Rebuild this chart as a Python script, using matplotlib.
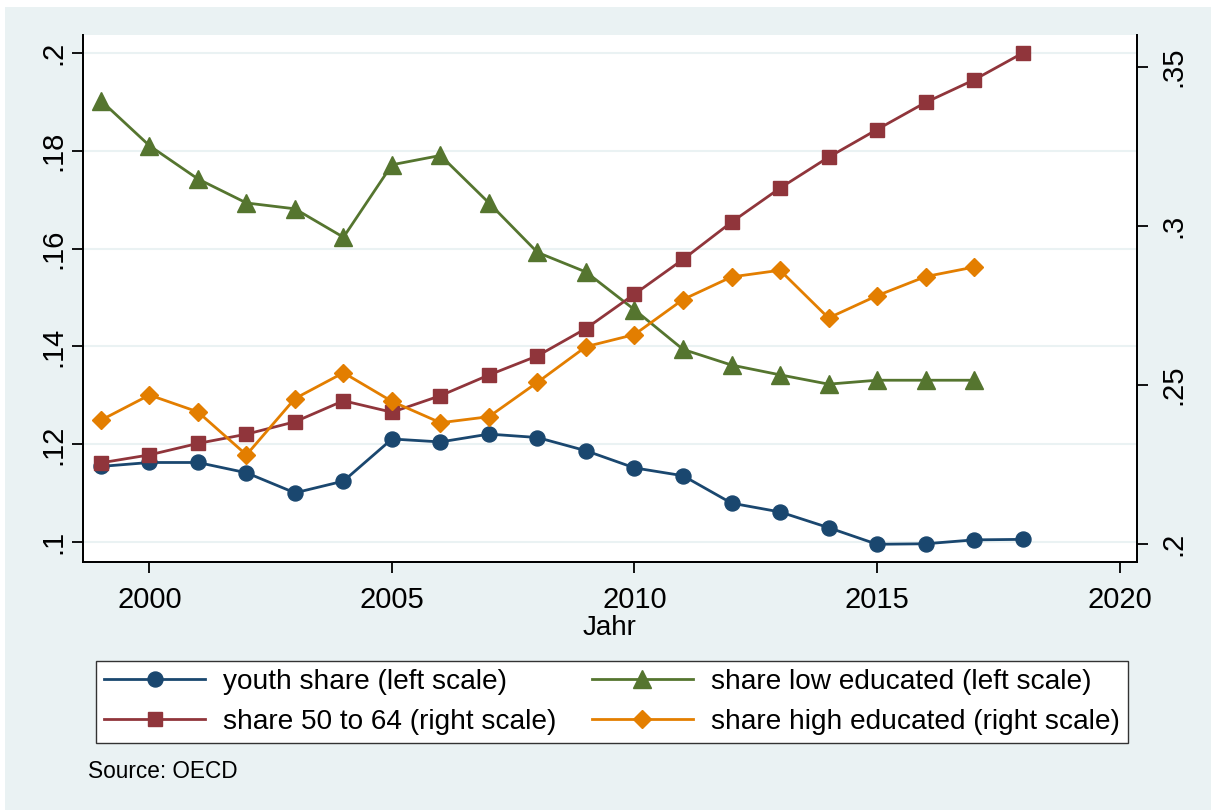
import matplotlib
matplotlib.use("Agg")
import matplotlib.pyplot as plt
from matplotlib.patches import Rectangle

plt.rcParams['font.family'] = ['Liberation Sans', 'DejaVu Sans']

# data
years = list(range(1999, 2019))
youth_share = [0.1155, 0.1163, 0.1163, 0.1142, 0.1101, 0.1125, 0.1211, 0.1205, 0.1221, 0.1214,
               0.1187, 0.1152, 0.1136, 0.1080, 0.1062, 0.1030, 0.0996, 0.0997, 0.1005, 0.1006]
low_educ = [0.1902, 0.1810, 0.1742, 0.1693, 0.1681, 0.1623, 0.1771, 0.1790, 0.1693, 0.1592,
            0.1552, 0.1475, 0.1394, 0.1362, 0.1342, 0.1323, 0.1331, 0.1331, 0.1331]
share_50_64 = [0.2255, 0.2280, 0.2316, 0.2345, 0.2384, 0.2450, 0.2414, 0.2466, 0.2531, 0.2591,
               0.2677, 0.2785, 0.2894, 0.3011, 0.3118, 0.3215, 0.3302, 0.3387, 0.3458, 0.3542]
high_educ = [0.2389, 0.2468, 0.2415, 0.2280, 0.2457, 0.2538, 0.2448, 0.2381, 0.2400, 0.2508,
             0.2620, 0.2658, 0.2768, 0.2839, 0.2860, 0.2710, 0.2780, 0.2840, 0.2870]

left_ticks = [0.10, 0.12, 0.14, 0.16, 0.18, 0.20]
left_labels = ['.1', '.12', '.14', '.16', '.18', '.2']
right_ticks = [0.20, 0.25, 0.30, 0.35]
right_labels = ['.2', '.25', '.3', '.35']
x_ticks = [2000, 2005, 2010, 2015, 2020]

# stata s2color
navy = '#1a476f'
maroon = '#90353b'
green = '#55752f'
orange = '#e37e00'
bg = '#eaf2f3'

W, H = 1211, 810
fig = plt.figure(figsize=(W / 100, H / 100), dpi=100, facecolor='white')
# graph region background
fig.patches.append(Rectangle((5 / W, 0), 1, 1 - 7 / H, transform=fig.transFigure,
                             facecolor=bg, edgecolor='none', zorder=-10))

ax = fig.add_axes([83 / W, 1 - 562 / H, 1054 / W, 527 / H])
ax.set_facecolor('white')
ax2 = ax.twinx()

lw = 2.0
l1, = ax.plot(years, youth_share, color=navy, lw=lw, marker='o', ms=10.8, label='youth share (left scale)')
l2, = ax.plot(years[:len(low_educ)], low_educ, color=green, lw=lw, marker='^', ms=12.5,
              label='share low educated (left scale)')
l3, = ax2.plot(years, share_50_64, color=maroon, lw=lw, marker='s', ms=10,
               label='share 50 to 64 (right scale)')
l4, = ax2.plot(years[:len(high_educ)], high_educ, color=orange, lw=lw, marker='D', ms=9,
               label='share high educated (right scale)')

ax.set_xlim(1998.63, 2020.36)
ax.set_ylim(0.09598, 0.2036)
ax2.set_ylim(0.19435, 0.3599)

ax.set_xticks(x_ticks)
ax.set_yticks(left_ticks)
ax.set_yticklabels(left_labels, rotation=90, va='center')
ax2.set_yticks(right_ticks)
ax2.set_yticklabels(right_labels, rotation=90, va='center')

ax.grid(axis='y', color=bg, lw=1.5)
ax.set_axisbelow(True)

for a in (ax, ax2):
    a.spines['top'].set_visible(False)
    for s in ('left', 'right', 'bottom'):
        a.spines[s].set_linewidth(1.3)
ax.tick_params(axis='x', length=8, width=1.3, labelsize=21, pad=9)
ax.tick_params(axis='y', length=8, width=1.3, labelsize=21, pad=3)
ax2.tick_params(axis='y', length=8, width=1.3, labelsize=21, pad=8)

ax.set_xlabel('Jahr', fontsize=20, labelpad=1)

# columns fill first: youth, 50-64 | low, high
leg = fig.legend(handles=[l1, l3, l2, l4], ncol=2, loc='center',
                 bbox_to_anchor=(612 / W, 1 - 702 / H), fontsize=20.2,
                 handlelength=3.6, handletextpad=0.65, columnspacing=1.25,
                 labelspacing=0.5, borderpad=0.3, fancybox=False, framealpha=1,
                 edgecolor='#333333')
leg.get_frame().set_linewidth(1.0)

fig.text(88 / W, 1 - 778 / H, 'Source: OECD', fontsize=16.3, va='baseline', ha='left')

fig.savefig('out.png', dpi=100, facecolor=fig.get_facecolor())
